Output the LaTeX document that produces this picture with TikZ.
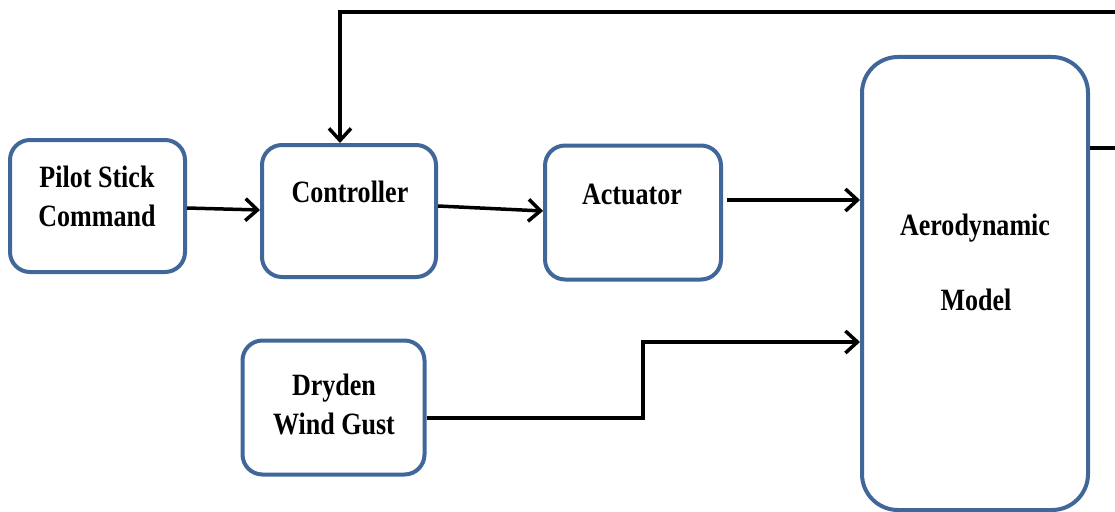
\documentclass[tikz,border=0pt]{standalone}
\usepackage{fontspec}
\setmainfont{Liberation Serif}
\usetikzlibrary{arrows.meta}
\definecolor{boxblue}{HTML}{41679A}
\newcommand{\lbl}[1]{\scalebox{0.84}[1]{\begin{tabular}{@{}c@{}}#1\end{tabular}}}
\tikzset{
  blk/.style={draw=boxblue, line width=4pt, rounded corners=20pt, fill=white, inner sep=0pt},
  txt/.style={font=\bfseries\fontsize{31}{39}\selectfont, inner sep=0pt},
  conn/.style={line width=3.5pt, -{Straight Barb[length=12pt,width=22pt,line width=3.5pt]}},
  plain/.style={line width=3.5pt}
}
\begin{document}
\begin{tikzpicture}[x=1pt,y=-1pt]
\useasboundingbox (0,0) rectangle (1115,511);
% boxes
\node[blk, minimum width=175pt, minimum height=132pt] (pilot) at (97.5,206) {};
\node[blk, minimum width=174pt, minimum height=132pt] (ctrl) at (349,211) {};
\node[blk, minimum width=176pt, minimum height=134pt] (act) at (633,212.5) {};
\node[blk, minimum width=182pt, minimum height=134pt] (dry) at (333.5,407.5) {};
\node[blk, minimum width=226pt, minimum height=453pt, rounded corners=36pt] (aero) at (975,283.5) {};
% texts
\node[txt] (tpilot) at (97,199) {\lbl{Pilot Stick\\Command}};
\node[txt] (tctrl) at (350,195) {\lbl{Controller}};
\node[txt] (tact) at (632,197) {\lbl{Actuator}};
\node[txt] (tdry) at (334,407) {\lbl{Dryden\\Wind Gust}};
\node[txt] (taero1) at (975,228) {\lbl{Aerodynamic}};
\node[txt] (taero2) at (976,303) {\lbl{Model}};
% connectors
\coordinate (p1) at (pilot.east |- 0,208);
\coordinate (c1) at (ctrl.west |- 0,210);
\draw[conn] (p1) -- (c1);
\coordinate (c2) at (ctrl.east |- 0,206);
\coordinate (a1) at (act.west |- 0,211);
\draw[conn] (c2) -- (a1);
\coordinate (a2) at (727,200);
\coordinate (m1) at (aero.west |- 0,200);
\draw[conn] (a2) -- (m1);
\coordinate (d1) at (dry.east |- 0,418);
\coordinate (m2) at (aero.west |- 0,342);
\draw[conn] (d1) -- (643,418) -- (643,342) -- (m2);
\coordinate (m3) at (aero.east |- 0,148);
\coordinate (edge) at (1115,148);
\coordinate (top) at (1115,12);
\coordinate (ct) at (340,0 |- ctrl.north);
\draw[plain] (m3) -- (edge);
\draw[conn] (top) -- (340,12) -- (ct);
\end{tikzpicture}
\end{document}
